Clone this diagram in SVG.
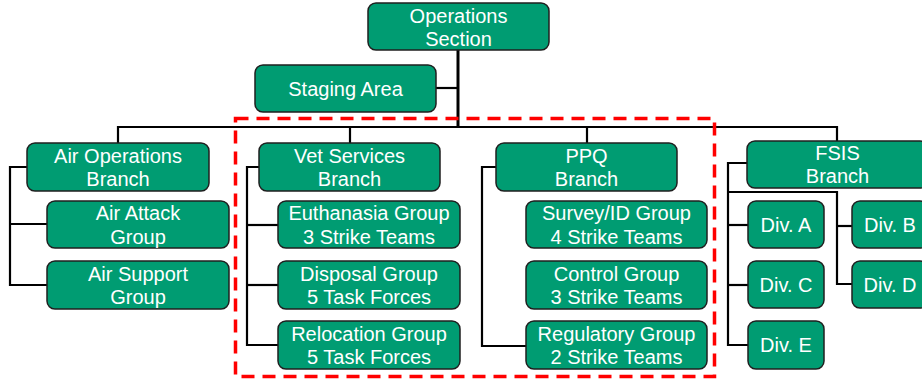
<svg xmlns="http://www.w3.org/2000/svg" width="922" height="381" viewBox="0 0 922 381">
  <style>
    .box { fill: #009C72; stroke: #1F1F1F; stroke-width: 1.5; }
    .lbl { fill: #FFFFFF; font-family: "Liberation Sans", Arial, sans-serif; font-size: 20px; text-anchor: middle; }
    .ln { fill: none; stroke: #000000; stroke-width: 2.2; }
    .zone { fill: none; stroke: #FF0000; stroke-width: 3.5; stroke-dasharray: 13 8; }
  </style>

  <!-- connectors -->
  <g id="connectors">
    <path class="ln" d="M458,50 V127" style="stroke-width:3"/>
    <path class="ln" d="M436,88 H458"/>
    <path class="ln" d="M118,143 V127 H837 V141"/>
    <path class="ln" d="M350,127 V143"/>
    <path class="ln" d="M587,127 V143"/>
    <!-- Air Operations -->
    <path class="ln" d="M27,167 H10 V285 H47"/>
    <path class="ln" d="M10,224 H47"/>
    <!-- Vet Services -->
    <path class="ln" d="M259,167 H247 V345 H278"/>
    <path class="ln" d="M247,225 H278"/>
    <path class="ln" d="M247,285 H278"/>
    <!-- PPQ -->
    <path class="ln" d="M496,167 H482 V346 H526"/>
    <!-- FSIS -->
    <path class="ln" d="M747,163 H728 V345 H748"/>
    <path class="ln" d="M728,225 H748"/>
    <path class="ln" d="M728,285 H748"/>
    <path class="ln" d="M728,192 H837 V284 H852"/>
    <path class="ln" d="M837,226 H852"/>
  </g>

  <g id="ops-section">
    <rect class="box" x="368" y="3" width="181" height="47" rx="8"/>
    <text class="lbl" x="458.5" y="23">Operations</text>
    <text class="lbl" x="458.5" y="46">Section</text>
  </g>
  <g id="staging-area">
    <rect class="box" x="255" y="65" width="181" height="47" rx="8"/>
    <text class="lbl" x="345.5" y="96">Staging Area</text>
  </g>

  <g id="air-ops-branch">
    <rect class="box" x="27" y="143" width="182" height="48" rx="8"/>
    <text class="lbl" x="118" y="163">Air Operations</text>
    <text class="lbl" x="118" y="186">Branch</text>
  </g>
  <g id="air-attack-group">
    <rect class="box" x="47" y="201" width="182" height="47" rx="8"/>
    <text class="lbl" x="138" y="220">Air Attack</text>
    <text class="lbl" x="138" y="244">Group</text>
  </g>
  <g id="air-support-group">
    <rect class="box" x="47" y="261" width="182" height="48" rx="8"/>
    <text class="lbl" x="138" y="281">Air Support</text>
    <text class="lbl" x="138" y="304">Group</text>
  </g>

  <g id="vet-services-branch">
    <rect class="box" x="259" y="143" width="181" height="48" rx="8"/>
    <text class="lbl" x="349.5" y="163">Vet Services</text>
    <text class="lbl" x="349.5" y="186">Branch</text>
  </g>
  <g id="euthanasia-group">
    <rect class="box" x="278" y="201" width="182" height="47" rx="8"/>
    <text class="lbl" x="369" y="220">Euthanasia Group</text>
    <text class="lbl" x="369" y="244">3 Strike Teams</text>
  </g>
  <g id="disposal-group">
    <rect class="box" x="278" y="261" width="182" height="48" rx="8"/>
    <text class="lbl" x="369" y="281">Disposal Group</text>
    <text class="lbl" x="369" y="304">5 Task Forces</text>
  </g>
  <g id="relocation-group">
    <rect class="box" x="278" y="321" width="182" height="48" rx="8"/>
    <text class="lbl" x="369" y="341">Relocation Group</text>
    <text class="lbl" x="369" y="364">5 Task Forces</text>
  </g>

  <g id="ppq-branch">
    <rect class="box" x="496" y="143" width="181" height="48" rx="8"/>
    <text class="lbl" x="586.5" y="163">PPQ</text>
    <text class="lbl" x="586.5" y="186">Branch</text>
  </g>
  <g id="survey-id-group">
    <rect class="box" x="526" y="201" width="181" height="47" rx="8"/>
    <text class="lbl" x="616.5" y="220">Survey/ID Group</text>
    <text class="lbl" x="616.5" y="244">4 Strike Teams</text>
  </g>
  <g id="control-group">
    <rect class="box" x="526" y="261" width="181" height="48" rx="8"/>
    <text class="lbl" x="616.5" y="281">Control Group</text>
    <text class="lbl" x="616.5" y="304">3 Strike Teams</text>
  </g>
  <g id="regulatory-group">
    <rect class="box" x="526" y="321" width="181" height="48" rx="8"/>
    <text class="lbl" x="616.5" y="341">Regulatory Group</text>
    <text class="lbl" x="616.5" y="364">2 Strike Teams</text>
  </g>

  <g id="fsis-branch">
    <rect class="box" x="747" y="141" width="181" height="47" rx="8"/>
    <text class="lbl" x="837.5" y="160">FSIS</text>
    <text class="lbl" x="837.5" y="183">Branch</text>
  </g>
  <g id="div-a">
    <rect class="box" x="748" y="201" width="76" height="47" rx="8"/>
    <text class="lbl" x="786" y="232">Div. A</text>
  </g>
  <g id="div-b">
    <rect class="box" x="852" y="201" width="76" height="47" rx="8"/>
    <text class="lbl" x="890" y="232">Div. B</text>
  </g>
  <g id="div-c">
    <rect class="box" x="748" y="261" width="76" height="47" rx="8"/>
    <text class="lbl" x="786" y="292">Div. C</text>
  </g>
  <g id="div-d">
    <rect class="box" x="852" y="261" width="76" height="47" rx="8"/>
    <text class="lbl" x="890" y="292">Div. D</text>
  </g>
  <g id="div-e">
    <rect class="box" x="748" y="321" width="76" height="48" rx="8"/>
    <text class="lbl" x="786" y="352">Div. E</text>
  </g>

  <!-- highlighted zone around the Vet Services and PPQ branches -->
  <rect class="zone" x="235.5" y="118.5" width="479" height="258"/>
</svg>
